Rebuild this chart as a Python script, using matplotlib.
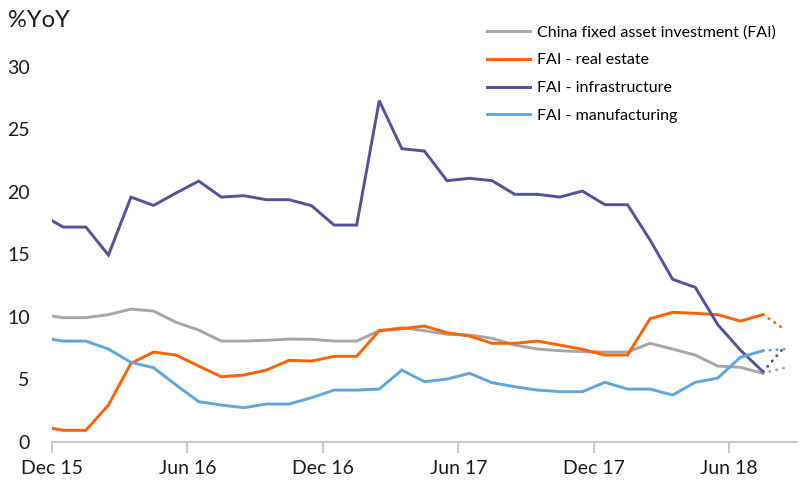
import numpy as np
import matplotlib
matplotlib.use('Agg')
import matplotlib.pyplot as plt

plt.rcParams['font.family'] = ['Lato', 'DejaVu Sans']

# month index: 0 = Dec 15 tick; points sit mid-month, first one (Nov 15) is clipped
months = np.arange(-0.5, 32.0, 1.0)
tick_pos = [0, 6, 12, 18, 24, 30]
tick_labels = ['Dec 15', 'Jun 16', 'Dec 16', 'Jun 17', 'Dec 17', 'Jun 18']

fai_total = [10.18, 9.92, 9.92, 10.16, 10.61, 10.45, 9.55, 8.93, 8.05, 8.05, 8.11,
             8.21, 8.19, 8.05, 8.05, 8.88, 9.12, 8.88, 8.59, 8.53, 8.27, 7.73,
             7.41, 7.28, 7.2, 7.17, 7.17, 7.87, 7.41, 6.93, 6.05, 5.95, 5.47]
fai_real_estate = [1.23, 0.91, 0.91, 2.93, 6.27, 7.17, 6.93, 6.05, 5.2, 5.33, 5.73,
                   6.51, 6.45, 6.83, 6.83, 8.88, 9.04, 9.25, 8.72, 8.45, 7.87, 7.87,
                   8.05, 7.73, 7.39, 6.93, 6.93, 9.84, 10.35, 10.27, 10.16, 9.65, 10.16]
fai_infra = [18.19, 17.17, 17.17, 14.93, 19.57, 18.9, 19.9, 20.85, 19.57, 19.68, 19.36,
             19.36, 18.88, 17.33, 17.33, 27.28, 23.44, 23.25, 20.88, 21.07, 20.88, 19.79,
             19.79, 19.57, 20.05, 18.96, 18.96, 16.13, 12.99, 12.35, 9.36, 7.33, 5.6]
fai_manuf = [8.33, 8.05, 8.05, 7.41, 6.35, 5.92, 4.53, 3.2, 2.93, 2.72, 3.01,
             3.01, 3.52, 4.13, 4.13, 4.21, 5.73, 4.8, 5.01, 5.47, 4.72, 4.4,
             4.13, 4.0, 4.0, 4.75, 4.21, 4.21, 3.73, 4.75, 5.09, 6.75, 7.28]

# dotted extension to the next month
ext_month = 32.5
ext_values = {'total': 5.92, 'real_estate': 8.94, 'infra': 7.68, 'manuf': 7.42}

series = [
    ('China fixed asset investment (FAI)', fai_total, 'total', '#A6A6A6'),
    ('FAI - real estate', fai_real_estate, 'real_estate', '#FF6200'),
    ('FAI - infrastructure', fai_infra, 'infra', '#525199'),
    ('FAI - manufacturing', fai_manuf, 'manuf', '#60A6DA'),
]

fig = plt.figure(figsize=(8, 4.97), dpi=100)
ax = fig.add_axes([0.065, 0.1113, 0.931, 0.7545])

for label, vals, key, col in series:
    ax.plot(months, vals, color=col, lw=2.1, label=label, solid_joinstyle='miter')
    ax.plot([months[-1], ext_month], [vals[-1], ext_values[key]], color=col, lw=2.1,
            linestyle=(0, (0.1, 2.3)), dash_capstyle='round')

ax.set_xlim(0, 33)
ax.set_ylim(0, 30)
ax.set_yticks([0, 5, 10, 15, 20, 25, 30])
ax.set_xticks(tick_pos)
ax.set_xticklabels(tick_labels)
for s in ['top', 'right', 'left']:
    ax.spines[s].set_visible(False)
ax.spines['bottom'].set_color('#BFBFBF')
ax.spines['bottom'].set_linewidth(1.2)
ax.tick_params(axis='x', length=8, width=1.2, color='#BFBFBF', pad=5, labelsize=14, labelcolor='#1a1a1a')
ax.tick_params(axis='y', length=0, pad=16, labelsize=14, labelcolor='#1a1a1a')

fig.text(0.01, 0.958, '%YoY', fontsize=17, va='center', ha='left', color='#1a1a1a')

fig.legend(loc='upper left', bbox_to_anchor=(0.591, 0.978), frameon=False, fontsize=11.5,
           handlelength=2.7, handletextpad=0.4, labelspacing=0.85)

fig.savefig('out.png', dpi=100)
